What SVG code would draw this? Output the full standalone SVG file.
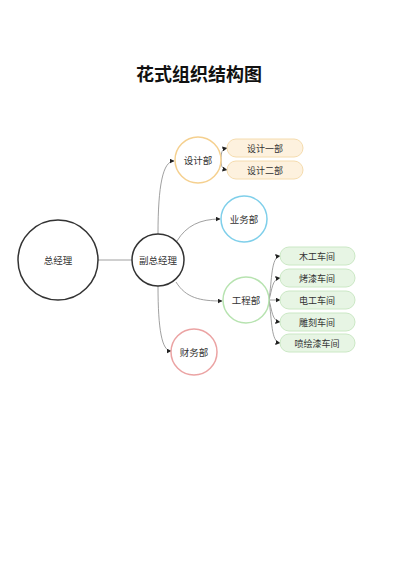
<svg xmlns="http://www.w3.org/2000/svg" width="400" height="566" viewBox="0 0 400 566">
<defs>
<marker id="arr" viewBox="0 0 10 10" refX="9" refY="5" markerWidth="5" markerHeight="5" orient="auto" markerUnits="userSpaceOnUse">
<path d="M0,0 L10,5 L0,10 Z" fill="#222"/>
</marker>
</defs>
<style>
text{font-family:"Noto Sans CJK SC","Noto Sans",sans-serif;fill:#333;text-anchor:middle;dominant-baseline:central}
.t{font-size:18px;font-weight:bold;fill:#111}
.n{font-size:9.5px}
.p{font-size:9px}
.c{fill:#fff;stroke-width:1.5}
.e{fill:none;stroke:#888;stroke-width:0.8}
.ea{fill:none;stroke:#888;stroke-width:0.8;marker-end:url(#arr)}
.po{fill:#fdf1de;stroke:#f5dcae;stroke-width:1}
.pg{fill:#e7f5e4;stroke:#cbe8c5;stroke-width:1}
</style>
<rect width="400" height="566" fill="#fff"/>
<text class="t" x="199" y="73">花式组织结构图</text>
<g id="connectors">
<path class="e" d="M98,260 L132,260"/>
<path class="ea" d="M158,234 C158,185 163,161 174,161"/>
<path class="ea" d="M177,241 C186,226 200,219 220,219"/>
<path class="ea" d="M176,282 C186,298 200,301 222,301"/>
<path class="ea" d="M158,286 C158,330 162,351 171,351"/>
<path class="ea" d="M221,160 C221,152 222,149 227,148"/>
<path class="ea" d="M221,160 C221,166 222,169 227,170"/>
<path class="ea" d="M269,300 C272,280 271,257 280,256"/>
<path class="ea" d="M269,300 C272,290 272,279 280,278"/>
<path class="ea" d="M269,300 L280,300"/>
<path class="ea" d="M269,300 C272,310 272,321 280,322"/>
<path class="ea" d="M269,300 C272,320 271,342 280,343"/>
</g>
<g id="n-zjl"><circle class="c" cx="58" cy="260" r="40" stroke="#333"/><text class="n" x="58" y="260">总经理</text></g>
<g id="n-fzjl"><circle class="c" cx="158" cy="260" r="26" stroke="#333"/><text class="n" x="158" y="260">副总经理</text></g>
<g id="n-sjb"><circle class="c" cx="198" cy="160" r="23" stroke="#f5d08f"/><text class="n" x="198" y="160">设计部</text></g>
<g id="n-ywb"><circle class="c" cx="244" cy="219" r="23" stroke="#7fcfea"/><text class="n" x="244" y="219">业务部</text></g>
<g id="n-gcb"><circle class="c" cx="246" cy="300" r="23" stroke="#b7e3b0"/><text class="n" x="246" y="300">工程部</text></g>
<g id="n-cwb"><circle class="c" cx="194" cy="352" r="23" stroke="#eba3a3"/><text class="n" x="194" y="352">财务部</text></g>
<g id="n-sj1"><rect class="po" x="227" y="139" width="76" height="18" rx="9"/><text class="p" x="265" y="148">设计一部</text></g>
<g id="n-sj2"><rect class="po" x="227" y="161" width="76" height="18" rx="9"/><text class="p" x="265" y="170">设计二部</text></g>
<g id="n-mg"><rect class="pg" x="280" y="247" width="75" height="18" rx="9"/><text class="p" x="317" y="256">木工车间</text></g>
<g id="n-kq"><rect class="pg" x="280" y="269" width="75" height="18" rx="9"/><text class="p" x="317" y="278">烤漆车间</text></g>
<g id="n-dg"><rect class="pg" x="280" y="291" width="75" height="18" rx="9"/><text class="p" x="317" y="300">电工车间</text></g>
<g id="n-dk"><rect class="pg" x="280" y="313" width="75" height="18" rx="9"/><text class="p" x="317" y="322">雕刻车间</text></g>
<g id="n-phq"><rect class="pg" x="280" y="334" width="75" height="18" rx="9"/><text class="p" x="317" y="343">喷绘漆车间</text></g>
</svg>
